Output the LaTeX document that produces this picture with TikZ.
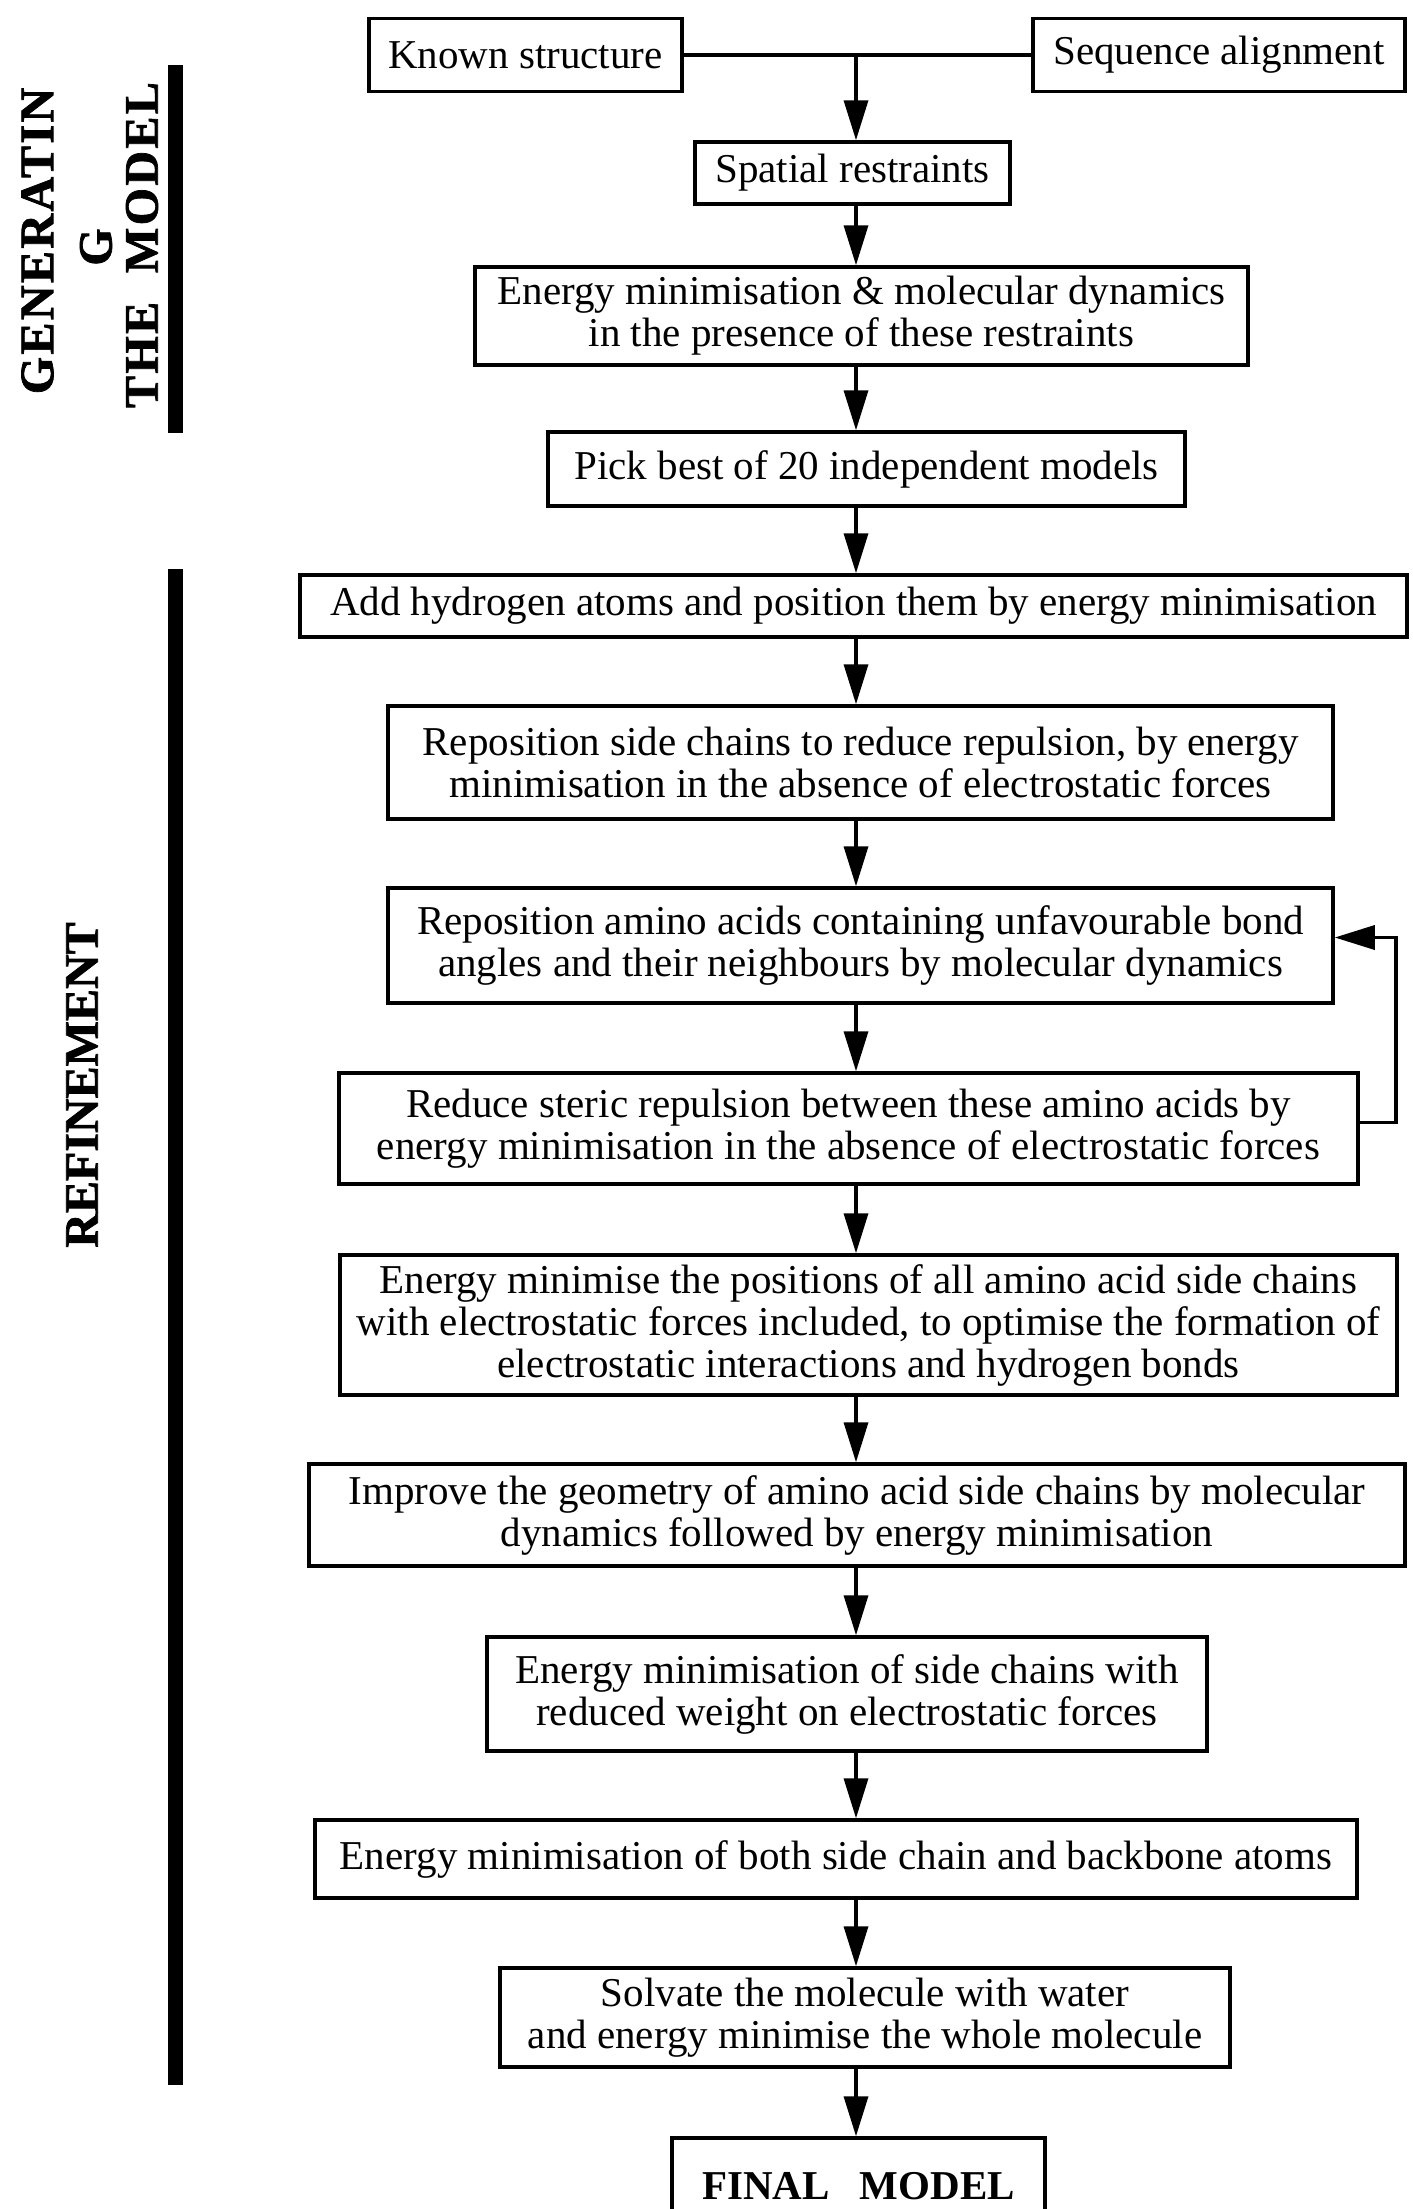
\documentclass[tikz,border=0pt]{standalone}
\usepackage{fontspec}
\setmainfont{Liberation Serif}
\newfontfamily\oldalfont[UprightFont={* Bold},FakeBold=1.5]{Liberation Serif}
\newfontfamily\ritkafont[UprightFont={* Bold},FakeBold=1.5,LetterSpace=5]{Liberation Serif}
\usetikzlibrary{arrows.meta}
\tikzset{
  dob/.style 2 args={draw,line width=3.5pt,inner sep=0pt,align=center,
    minimum width=#1,minimum height=#2,font=\fontsize{41}{42}\selectfont},
  nyil/.style={line width=3.5pt,-{Triangle[length=40pt,width=24pt]}},
  seg/.style={line width=3.5pt},
  felirat/.style={rotate=90,inner sep=0pt,font=\oldalfont\fontsize{48}{48}\selectfont},
  ritka/.style={felirat,font=\ritkafont\fontsize{48}{48}\selectfont},
}

\begin{document}
\begin{tikzpicture}[x=1pt,y=-1pt]
  \useasboundingbox (0,0) rectangle (1413,2209);
  \coordinate (spine) at (856,0);
  % generating the model
  \node[dob={313pt}{73pt}] (known) at (525.5,55) {Known structure};
  \node[dob={372pt}{73pt}] (seq) at (1219,55) {Sequence alignment};
  \node[dob={315pt}{62pt}] (spatial) at (852.5,173) {Spatial restraints};
  \node[dob={773pt}{98pt}] (emd) at (861.5,316) {Energy minimisation \& molecular dynamics\\in the presence of these restraints};
  \node[dob={637pt}{74pt}] (pick) at (866.5,469) {Pick best of 20 independent models};
  % refinement
  \node[dob={1107pt}{62pt}] (addh) at (853.5,606) {Add hydrogen atoms and position them by energy minimisation};
  \node[dob={945pt}{113pt}] (repside) at (860.5,762.5) {Reposition side chains to reduce repulsion, by energy\\minimisation in the absence of electrostatic forces};
  \node[dob={945pt}{115pt}] (repamino) at (860.5,945.5) {Reposition amino acids containing unfavourable bond\\angles and their neighbours by molecular dynamics};
  \node[dob={1019pt}{111pt}] (reduce) at (848.5,1128.5) {Reduce steric repulsion between these amino acids by\\energy minimisation in the absence of electrostatic forces};
  \node[dob={1057pt}{140pt}] (enpos) at (868.5,1325) {Energy minimise the positions of all amino acid side chains\\with electrostatic forces included, to optimise the formation of\\electrostatic interactions and hydrogen bonds};
  \node[dob={1096pt}{102pt}] (improve) at (857,1515) {Improve the geometry of amino acid side chains by molecular\\dynamics followed by energy minimisation};
  \node[dob={720pt}{114pt}] (ensidew) at (847,1694) {Energy minimisation of side chains with\\reduced weight on electrostatic forces};
  \node[dob={1042pt}{78pt}] (enboth) at (836,1859) {Energy minimisation of both side chain and backbone atoms};
  \node[dob={730pt}{99pt}] (solvate) at (865,2017.5) {Solvate the molecule with water\\and energy minimise the whole molecule};
  \node[dob={373pt}{97pt},font=\fontsize{41}{42}\selectfont\bfseries] (final) at (858.5,2186.5) {FINAL\hspace{30pt}MODEL};
  % connectors
  \draw[seg] (known.east) -- (seq.west);
  \draw[nyil] (known.east -| spine) -- (spatial.north -| spine);
  \draw[nyil] (spatial.south -| spine) -- (emd.north -| spine);
  \draw[nyil] (emd.south -| spine) -- (pick.north -| spine);
  \draw[nyil] (pick.south -| spine) -- (addh.north -| spine);
  \draw[nyil] (addh.south -| spine) -- (repside.north -| spine);
  \draw[nyil] (repside.south -| spine) -- (repamino.north -| spine);
  \draw[nyil] (repamino.south -| spine) -- (reduce.north -| spine);
  \draw[nyil] (reduce.south -| spine) -- (enpos.north -| spine);
  \draw[nyil] (enpos.south -| spine) -- (improve.north -| spine);
  \draw[nyil] (improve.south -| spine) -- (ensidew.north -| spine);
  \draw[nyil] (ensidew.south -| spine) -- (enboth.north -| spine);
  \draw[nyil] (enboth.south -| spine) -- (solvate.north -| spine);
  \draw[nyil] (solvate.south -| spine) -- (final.north -| spine);
  % feedback loop
  \coordinate (fb) at (1396,1030);
  \draw[nyil] ([yshift=6pt]reduce.east) -| (fb) |- ([yshift=8pt]repamino.east);
  % side labels and bars
  \fill (168,65) rectangle (183,433);
  \fill (168,569) rectangle (183,2085);
  \node[ritka] (gen1) at (37.5,241) {GENERATIN};
  \node[felirat] (gen2) at (96,247) {G};
  \node[ritka] (gen3) at (142,245) {THE\ \ MODEL};
  \node[felirat] (refine) at (82,1085) {REFINEMENT};
\end{tikzpicture}
\end{document}
